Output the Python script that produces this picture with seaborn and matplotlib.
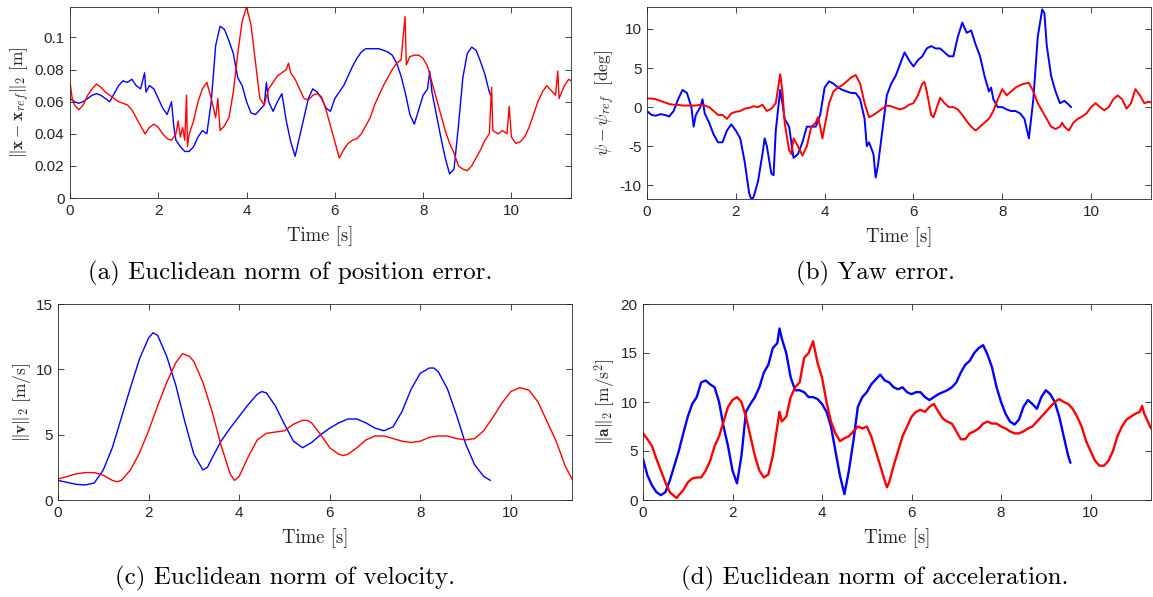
import numpy as np
import pandas as pd
import matplotlib
matplotlib.use("Agg")
import matplotlib.pyplot as plt
import seaborn as sns

# ---- data (time [s], value) ----
pos_blue = [(0.0, 0.062), (0.1, 0.060), (0.2, 0.059), (0.3, 0.060), (0.4, 0.062), (0.5, 0.064),
            (0.6, 0.065), (0.7, 0.064), (0.8, 0.062), (0.9, 0.060), (1.0, 0.065), (1.1, 0.070),
            (1.2, 0.073), (1.3, 0.072), (1.4, 0.074), (1.5, 0.070), (1.6, 0.068), (1.69, 0.078),
            (1.72, 0.066), (1.8, 0.070), (1.9, 0.068), (2.0, 0.062), (2.1, 0.056), (2.2, 0.052),
            (2.3, 0.060), (2.35, 0.045), (2.4, 0.036), (2.5, 0.032), (2.6, 0.029), (2.7, 0.029),
            (2.8, 0.032), (2.9, 0.038), (3.0, 0.042), (3.1, 0.040), (3.2, 0.060), (3.3, 0.095),
            (3.4, 0.107), (3.5, 0.105), (3.6, 0.098), (3.7, 0.090), (3.8, 0.075), (3.9, 0.070),
            (4.0, 0.060), (4.1, 0.053), (4.2, 0.052), (4.3, 0.055), (4.4, 0.058), (4.45, 0.072),
            (4.5, 0.060), (4.6, 0.054), (4.7, 0.060), (4.8, 0.065), (4.9, 0.048), (5.0, 0.035),
            (5.1, 0.026), (5.2, 0.038), (5.3, 0.050), (5.4, 0.062), (5.5, 0.068), (5.6, 0.066),
            (5.7, 0.062), (5.8, 0.056), (5.9, 0.054), (6.0, 0.062), (6.1, 0.066), (6.2, 0.070),
            (6.3, 0.076), (6.4, 0.082), (6.5, 0.087), (6.6, 0.091), (6.7, 0.093), (6.8, 0.093),
            (6.9, 0.093), (7.0, 0.093), (7.1, 0.092), (7.2, 0.091), (7.3, 0.089), (7.4, 0.084),
            (7.5, 0.076), (7.6, 0.065), (7.7, 0.052), (7.8, 0.046), (7.9, 0.055), (8.0, 0.064),
            (8.1, 0.068), (8.15, 0.079), (8.2, 0.066), (8.3, 0.052), (8.4, 0.038), (8.5, 0.025),
            (8.6, 0.015), (8.7, 0.018), (8.8, 0.045), (8.9, 0.075), (9.0, 0.090), (9.1, 0.094),
            (9.2, 0.092), (9.3, 0.085), (9.4, 0.077), (9.5, 0.066), (9.55, 0.063)]

pos_red = [(0.0, 0.072), (0.05, 0.062), (0.1, 0.058), (0.2, 0.055), (0.3, 0.058), (0.4, 0.064),
           (0.5, 0.068), (0.6, 0.071), (0.7, 0.069), (0.8, 0.066), (0.9, 0.064), (1.0, 0.062),
           (1.1, 0.060), (1.2, 0.059), (1.3, 0.058), (1.4, 0.055), (1.5, 0.050), (1.6, 0.045),
           (1.7, 0.040), (1.8, 0.044), (1.9, 0.046), (2.0, 0.044), (2.1, 0.040), (2.2, 0.037),
           (2.3, 0.036), (2.4, 0.040), (2.45, 0.048), (2.5, 0.038), (2.55, 0.044), (2.6, 0.036),
           (2.64, 0.064), (2.66, 0.032), (2.7, 0.040), (2.8, 0.048), (2.9, 0.060), (3.0, 0.068),
           (3.1, 0.072), (3.2, 0.062), (3.3, 0.050), (3.35, 0.062), (3.4, 0.042), (3.5, 0.045),
           (3.6, 0.050), (3.7, 0.066), (3.8, 0.090), (3.9, 0.110), (4.0, 0.119), (4.1, 0.108),
           (4.2, 0.085), (4.3, 0.062), (4.4, 0.058), (4.5, 0.068), (4.6, 0.072), (4.7, 0.076),
           (4.8, 0.078), (4.9, 0.080), (4.95, 0.084), (5.0, 0.078), (5.1, 0.074), (5.2, 0.068),
           (5.3, 0.062), (5.4, 0.061), (5.5, 0.064), (5.6, 0.065), (5.7, 0.063), (5.8, 0.055),
           (5.9, 0.045), (6.0, 0.035), (6.1, 0.025), (6.2, 0.030), (6.3, 0.034), (6.4, 0.036),
           (6.5, 0.037), (6.6, 0.040), (6.7, 0.045), (6.8, 0.050), (6.9, 0.058), (7.0, 0.064),
           (7.1, 0.070), (7.2, 0.075), (7.3, 0.080), (7.4, 0.084), (7.5, 0.086), (7.59, 0.113),
           (7.62, 0.083), (7.7, 0.088), (7.8, 0.089), (7.9, 0.089), (8.0, 0.087), (8.1, 0.082),
           (8.2, 0.072), (8.3, 0.062), (8.4, 0.052), (8.5, 0.042), (8.6, 0.034), (8.7, 0.028),
           (8.8, 0.020), (8.9, 0.018), (9.0, 0.017), (9.1, 0.020), (9.2, 0.025), (9.3, 0.030),
           (9.4, 0.036), (9.5, 0.040), (9.55, 0.069), (9.58, 0.042), (9.7, 0.040), (9.8, 0.042),
           (9.9, 0.040), (9.95, 0.057), (10.0, 0.038), (10.1, 0.034), (10.2, 0.035), (10.3, 0.038),
           (10.4, 0.044), (10.5, 0.052), (10.6, 0.060), (10.7, 0.066), (10.8, 0.070), (10.9, 0.067),
           (11.0, 0.064), (11.05, 0.079), (11.08, 0.062), (11.2, 0.070), (11.3, 0.074), (11.35, 0.073)]

yaw_blue = [(0.0, -0.5), (0.1, -1.0), (0.2, -1.1), (0.3, -0.9), (0.4, -1.0), (0.5, -1.2),
            (0.6, -0.5), (0.7, 1.0), (0.8, 2.2), (0.9, 1.8), (1.0, 0.0), (1.05, -2.5), (1.1, -1.0),
            (1.2, 0.0), (1.25, 1.0), (1.3, -0.8), (1.4, -2.0), (1.5, -3.5), (1.6, -4.5), (1.7, -4.5),
            (1.8, -3.0), (1.9, -2.2), (2.0, -3.0), (2.1, -4.0), (2.2, -7.0), (2.3, -11.0),
            (2.35, -11.8), (2.4, -11.5), (2.5, -9.5), (2.6, -6.0), (2.65, -4.0), (2.7, -5.0),
            (2.8, -8.5), (2.85, -8.7), (2.9, -3.0), (3.0, 2.2), (3.05, 0.5), (3.1, -1.5),
            (3.2, -2.5), (3.3, -6.5), (3.4, -6.0), (3.5, -4.5), (3.6, -2.5), (3.7, -2.5),
            (3.8, -2.5), (3.9, -1.0), (4.0, 2.5), (4.1, 3.3), (4.2, 3.0), (4.3, 2.5), (4.4, 2.2),
            (4.5, 2.0), (4.6, 1.8), (4.7, 1.8), (4.8, 1.0), (4.9, -1.5), (4.95, -5.0), (5.0, -4.5),
            (5.1, -6.0), (5.15, -9.0), (5.2, -7.5), (5.3, -3.0), (5.4, 1.5), (5.5, 3.0), (5.6, 4.0),
            (5.7, 5.5), (5.8, 7.0), (5.9, 6.0), (6.0, 5.2), (6.1, 6.0), (6.2, 6.5), (6.3, 7.5),
            (6.4, 7.8), (6.5, 7.5), (6.6, 7.5), (6.7, 7.0), (6.8, 6.5), (6.9, 6.5), (7.0, 9.0),
            (7.1, 10.8), (7.2, 9.5), (7.3, 9.8), (7.4, 8.0), (7.5, 6.5), (7.6, 4.0), (7.7, 2.0),
            (7.75, 2.5), (7.8, 1.0), (7.9, 0.0), (8.0, 0.0), (8.1, -0.3), (8.2, -0.5), (8.3, -0.5),
            (8.4, -0.8), (8.5, -1.5), (8.6, -4.0), (8.7, 1.0), (8.8, 9.0), (8.9, 12.5), (8.95, 12.0),
            (9.0, 8.0), (9.1, 4.0), (9.2, 2.0), (9.3, 0.5), (9.4, 0.8), (9.5, 0.3), (9.55, 0.0)]

yaw_red = [(0.0, 1.1), (0.1, 1.1), (0.2, 1.0), (0.3, 0.8), (0.4, 0.6), (0.5, 0.4), (0.6, 0.3),
           (0.7, 0.3), (0.8, 0.2), (0.9, 0.2), (1.0, 0.2), (1.1, 0.2), (1.2, 0.3), (1.3, 0.2),
           (1.4, 0.0), (1.5, -0.5), (1.6, -1.0), (1.7, -1.0), (1.8, -1.5), (1.9, -0.8), (2.0, -0.6),
           (2.1, -0.5), (2.2, -0.2), (2.3, -0.1), (2.4, 0.1), (2.5, 0.0), (2.6, 0.3), (2.7, -0.5),
           (2.8, -0.2), (2.9, 0.5), (3.0, 4.2), (3.05, 2.0), (3.1, -2.0), (3.2, -5.5), (3.25, -6.0),
           (3.3, -4.0), (3.4, -5.0), (3.5, -6.2), (3.6, -5.0), (3.7, -2.5), (3.8, -2.0),
           (3.85, -1.3), (3.9, -2.5), (3.95, -4.0), (4.0, -2.5), (4.1, 0.5), (4.2, 2.0), (4.3, 2.5),
           (4.4, 2.8), (4.5, 3.3), (4.6, 3.8), (4.7, 4.1), (4.8, 3.0), (4.9, 0.5), (5.0, -1.3),
           (5.1, -1.0), (5.2, -0.6), (5.3, -0.2), (5.4, 0.2), (5.5, 0.1), (5.6, -0.1), (5.7, -0.3),
           (5.8, -0.1), (5.9, 0.3), (6.0, 0.5), (6.1, 1.5), (6.2, 3.0), (6.25, 3.2), (6.3, 2.0),
           (6.4, -1.0), (6.45, -1.3), (6.5, -0.5), (6.6, 1.2), (6.7, 0.5), (6.8, 0.0), (6.9, 0.0),
           (7.0, -0.3), (7.1, -1.0), (7.2, -1.8), (7.3, -2.5), (7.4, -3.0), (7.5, -2.5), (7.6, -2.0),
           (7.7, -1.5), (7.8, -0.5), (7.9, 1.0), (8.0, 2.3), (8.1, 1.5), (8.2, 2.0), (8.3, 2.5),
           (8.4, 2.8), (8.5, 3.0), (8.6, 3.1), (8.7, 2.0), (8.8, 0.5), (8.9, -0.5), (9.0, -1.5),
           (9.1, -2.5), (9.2, -2.8), (9.3, -2.5), (9.35, -2.0), (9.4, -2.5), (9.5, -3.0),
           (9.6, -2.0), (9.7, -1.5), (9.8, -1.2), (9.9, -0.8), (10.0, 0.0), (10.1, 0.5), (10.2, 0.0),
           (10.3, -0.4), (10.4, 0.0), (10.5, 1.0), (10.6, 1.5), (10.7, 1.0), (10.8, -0.2),
           (10.9, 0.5), (11.0, 2.3), (11.1, 1.5), (11.2, 0.5), (11.3, 0.7), (11.35, 0.6)]

vel_blue = [(0.0, 1.5), (0.2, 1.35), (0.4, 1.2), (0.6, 1.15), (0.8, 1.3), (1.0, 2.3), (1.2, 4.0),
            (1.4, 6.3), (1.6, 8.6), (1.8, 10.8), (2.0, 12.4), (2.1, 12.8), (2.2, 12.6), (2.4, 11.0),
            (2.6, 8.8), (2.8, 6.0), (3.0, 3.5), (3.2, 2.3), (3.3, 2.5), (3.4, 3.2), (3.6, 4.5),
            (3.8, 5.5), (4.0, 6.4), (4.2, 7.3), (4.4, 8.1), (4.5, 8.3), (4.6, 8.2), (4.8, 7.2),
            (5.0, 5.8), (5.2, 4.5), (5.4, 4.0), (5.6, 4.4), (5.8, 5.0), (6.0, 5.5), (6.2, 5.9),
            (6.4, 6.2), (6.6, 6.2), (6.8, 5.9), (7.0, 5.5), (7.2, 5.3), (7.4, 5.6), (7.6, 6.8),
            (7.8, 8.5), (8.0, 9.7), (8.2, 10.1), (8.3, 10.1), (8.4, 9.8), (8.6, 8.5), (8.8, 6.5),
            (9.0, 4.3), (9.2, 2.7), (9.4, 1.8), (9.55, 1.5)]

vel_red = [(0.0, 1.6), (0.2, 1.8), (0.4, 2.0), (0.6, 2.1), (0.8, 2.1), (1.0, 1.9), (1.2, 1.5),
           (1.3, 1.4), (1.4, 1.5), (1.6, 2.3), (1.8, 3.6), (2.0, 5.3), (2.2, 7.2), (2.4, 9.0),
           (2.6, 10.5), (2.75, 11.2), (2.9, 11.0), (3.0, 10.6), (3.2, 9.0), (3.4, 6.8), (3.6, 4.2),
           (3.8, 2.0), (3.9, 1.5), (4.0, 1.8), (4.2, 3.3), (4.4, 4.6), (4.6, 5.1), (4.8, 5.2),
           (5.0, 5.3), (5.2, 5.8), (5.4, 6.1), (5.5, 6.1), (5.6, 5.9), (5.8, 5.0), (6.0, 4.0),
           (6.2, 3.5), (6.3, 3.4), (6.4, 3.5), (6.6, 4.0), (6.8, 4.6), (7.0, 4.9), (7.2, 4.9),
           (7.4, 4.7), (7.6, 4.5), (7.8, 4.4), (8.0, 4.5), (8.2, 4.8), (8.4, 4.9), (8.6, 4.9),
           (8.8, 4.7), (9.0, 4.6), (9.2, 4.7), (9.4, 5.3), (9.6, 6.3), (9.8, 7.4), (10.0, 8.3),
           (10.2, 8.6), (10.4, 8.4), (10.6, 7.5), (10.8, 6.0), (11.0, 4.5), (11.2, 2.6), (11.35, 1.6)]

acc_blue = [(0.0, 4.2), (0.1, 2.5), (0.2, 1.5), (0.3, 0.8), (0.4, 0.5), (0.5, 0.8), (0.6, 2.0),
            (0.7, 3.5), (0.8, 5.0), (0.9, 6.8), (1.0, 8.5), (1.1, 9.8), (1.2, 10.5), (1.3, 12.0),
            (1.4, 12.2), (1.5, 11.8), (1.6, 11.5), (1.7, 10.0), (1.8, 7.5), (1.9, 5.5), (2.0, 3.0),
            (2.1, 1.7), (2.2, 4.5), (2.3, 9.0), (2.4, 9.8), (2.5, 10.5), (2.6, 11.5), (2.7, 13.0),
            (2.8, 13.8), (2.9, 15.5), (3.0, 16.0), (3.05, 17.5), (3.1, 16.5), (3.2, 15.0),
            (3.3, 12.5), (3.4, 11.2), (3.5, 11.2), (3.6, 11.0), (3.7, 10.5), (3.8, 10.5),
            (3.9, 10.3), (4.0, 9.8), (4.1, 9.0), (4.2, 7.5), (4.3, 5.0), (4.4, 2.5), (4.5, 0.6),
            (4.6, 3.0), (4.7, 6.0), (4.8, 9.5), (4.9, 10.5), (5.0, 11.0), (5.1, 11.8), (5.2, 12.3),
            (5.3, 12.8), (5.4, 12.2), (5.5, 12.0), (5.6, 11.5), (5.7, 11.3), (5.8, 11.5), (5.9, 11.0),
            (6.0, 10.8), (6.1, 11.0), (6.2, 11.0), (6.3, 10.5), (6.4, 10.2), (6.5, 10.5), (6.6, 10.8),
            (6.7, 11.0), (6.8, 11.2), (6.9, 11.5), (7.0, 12.0), (7.1, 13.0), (7.2, 13.8), (7.3, 14.2),
            (7.4, 15.0), (7.5, 15.5), (7.6, 15.8), (7.7, 14.8), (7.8, 13.5), (7.9, 11.5), (8.0, 10.0),
            (8.1, 8.8), (8.2, 8.0), (8.3, 7.7), (8.4, 8.2), (8.5, 9.5), (8.6, 10.2), (8.7, 9.8),
            (8.8, 9.3), (8.9, 10.5), (9.0, 11.2), (9.1, 10.8), (9.2, 10.0), (9.3, 8.5), (9.4, 6.5),
            (9.5, 4.5), (9.55, 3.8)]

acc_red = [(0.0, 6.8), (0.1, 6.2), (0.2, 5.5), (0.3, 4.2), (0.4, 3.0), (0.5, 1.8), (0.6, 0.8),
           (0.7, 0.4), (0.75, 0.2), (0.8, 0.5), (0.9, 1.0), (1.0, 1.8), (1.1, 2.2), (1.2, 2.3),
           (1.3, 2.3), (1.4, 3.0), (1.5, 4.0), (1.6, 5.5), (1.7, 6.5), (1.8, 8.0), (1.9, 9.5),
           (2.0, 10.2), (2.1, 10.5), (2.2, 10.0), (2.3, 8.5), (2.4, 6.5), (2.5, 4.5), (2.6, 3.0),
           (2.7, 2.3), (2.8, 2.6), (2.9, 4.5), (3.0, 7.5), (3.05, 9.0), (3.1, 8.0), (3.2, 8.5),
           (3.3, 10.5), (3.4, 11.5), (3.5, 12.0), (3.6, 14.5), (3.7, 15.0), (3.8, 16.2), (3.9, 14.0),
           (4.0, 12.5), (4.1, 10.0), (4.2, 8.0), (4.3, 6.8), (4.4, 6.0), (4.5, 6.3), (4.6, 6.5),
           (4.7, 7.0), (4.8, 7.5), (4.9, 7.3), (5.0, 7.5), (5.1, 6.5), (5.2, 5.0), (5.3, 3.5),
           (5.4, 2.0), (5.45, 1.3), (5.5, 1.8), (5.6, 3.5), (5.7, 5.0), (5.8, 6.5), (5.9, 7.5),
           (6.0, 8.5), (6.1, 9.0), (6.2, 9.2), (6.3, 9.0), (6.4, 9.5), (6.5, 9.8), (6.6, 9.0),
           (6.7, 8.3), (6.8, 8.0), (6.9, 7.8), (7.0, 7.0), (7.1, 6.2), (7.2, 6.2), (7.3, 6.8),
           (7.4, 7.0), (7.5, 7.3), (7.6, 7.8), (7.7, 8.0), (7.8, 7.8), (7.9, 7.8), (8.0, 7.5),
           (8.1, 7.3), (8.2, 7.0), (8.3, 6.8), (8.4, 6.8), (8.5, 7.0), (8.6, 7.3), (8.7, 7.5),
           (8.8, 8.0), (8.9, 8.5), (9.0, 9.0), (9.1, 9.5), (9.2, 10.0), (9.3, 10.3), (9.4, 10.0),
           (9.5, 9.8), (9.6, 9.3), (9.7, 8.5), (9.8, 7.5), (9.9, 6.0), (10.0, 5.0), (10.1, 4.0),
           (10.2, 3.5), (10.3, 3.5), (10.4, 4.0), (10.5, 5.0), (10.6, 6.5), (10.7, 7.5), (10.8, 8.2),
           (10.9, 8.5), (11.0, 8.8), (11.1, 9.0), (11.15, 9.6), (11.2, 8.8), (11.3, 7.8), (11.35, 7.3)]

captions = ["(a) Euclidean norm of position error.", "(b) Yaw error.",
            "(c) Euclidean norm of velocity.", "(d) Euclidean norm of acceleration."]
ylabels = [r"$\|\mathbf{x}-\mathbf{x}_{ref}\|_2\ [\mathrm{m}]$",
           r"$\psi-\psi_{ref}\ \ [\mathrm{deg}]$",
           r"$\|\mathbf{v}\|_2\ [\mathrm{m/s}]$",
           r"$\|\mathbf{a}\|_2\ [\mathrm{m/s^2}]$"]
yticks = [[0, 0.02, 0.04, 0.06, 0.08, 0.1], [-10, -5, 0, 5, 10], [0, 5, 10, 15], [0, 5, 10, 15, 20]]
yticklabels = [["0", "0.02", "0.04", "0.06", "0.08", "0.1"], None, None, None]
ylims = [(0, 0.119), (-11.75, 12.8), (0, 15), (0, 20)]
xticks = [0, 2, 4, 6, 8, 10]

sns.set_style("ticks")
plt.rcParams["font.family"] = ["Liberation Sans", "DejaVu Sans"]
plt.rcParams["mathtext.fontset"] = "cm"
plt.rcParams["axes.unicode_minus"] = False

W, H = 1153, 597
fig = plt.figure(figsize=(W / 100, H / 100), dpi=100)

# axes boxes in pixels: left, top, right, bottom
boxes = [(70, 7, 571, 198), (647, 7, 1151, 199), (58, 304, 572, 500), (643, 304, 1151, 500)]
cap_pos = [(290, 273), (876, 273), (285, 578), (875, 578)]
series = [(pos_blue, pos_red), (yaw_blue, yaw_red), (vel_blue, vel_red), (acc_blue, acc_red)]
widths = [1.0, 1.4, 1.0, 1.7]  # noisy traces look thicker in the original

for i, (l, t, r, b) in enumerate(boxes):
    ax = fig.add_axes([l / W, 1 - b / H, (r - l) / W, (b - t) / H])
    blue, red = series[i]
    db = pd.DataFrame(blue, columns=["t", "v"])
    dr = pd.DataFrame(red, columns=["t", "v"])
    sns.lineplot(data=db, x="t", y="v", color="#0000ff", lw=widths[i], sort=False, ax=ax)
    sns.lineplot(data=dr, x="t", y="v", color="#ff0000", lw=widths[i], sort=False, ax=ax)
    ax.set_xlim(0, 11.35)
    ax.set_ylim(*ylims[i])
    ax.set_xticks(xticks)
    ax.set_yticks(yticks[i])
    if yticklabels[i] is not None:
        ax.set_yticklabels(yticklabels[i])
    ax.tick_params(direction="in", top=True, right=True, length=4, width=0.6,
                   labelsize=11, colors="#262626", pad=4)
    for s in ax.spines.values():
        s.set_color("#262626")
        s.set_linewidth(0.6)
    ax.set_xlabel("Time [s]", family="cmr10", fontsize=13.5, color="#262626", labelpad=6)
    ax.set_ylabel(ylabels[i], fontsize=12.5, color="#262626", labelpad=2)
    cx, cy = cap_pos[i]
    fig.text(cx / W, 1 - cy / H, captions[i], family="cmr10", fontsize=18,
             ha="center", va="center", color="black")

fig.savefig("out.png", dpi=100)
